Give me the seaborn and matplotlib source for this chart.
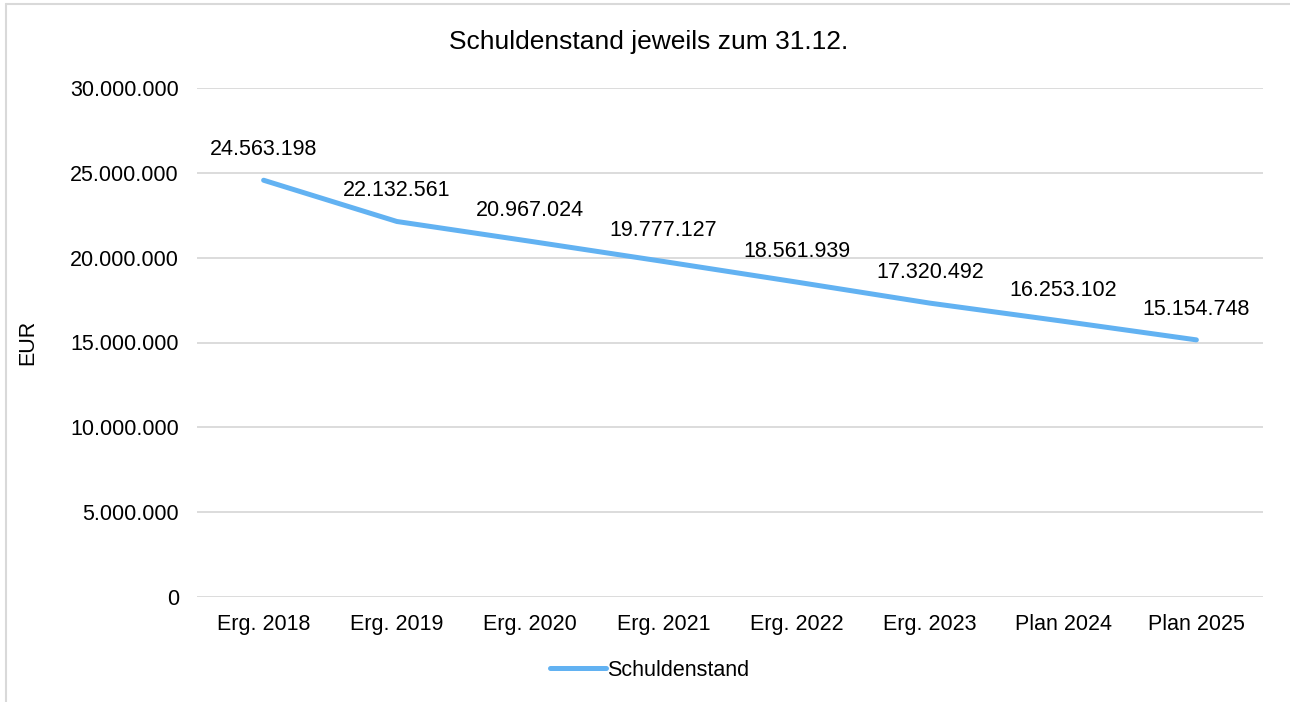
import pandas as pd
import matplotlib.pyplot as plt
import matplotlib.ticker as mticker
import seaborn as sns
from matplotlib.lines import Line2D

# data
jahre = ["Erg. 2018", "Erg. 2019", "Erg. 2020", "Erg. 2021",
         "Erg. 2022", "Erg. 2023", "Plan 2024", "Plan 2025"]
schuldenstand = [24563198, 22132561, 20967024, 19777127,
                 18561939, 17320492, 16253102, 15154748]
y_ticks = [0, 5000000, 10000000, 15000000, 20000000, 25000000, 30000000]

df = pd.DataFrame({"Jahr": jahre, "Schuldenstand": schuldenstand})


def de_fmt(v):
    return f"{int(v):,}".replace(",", ".")


sns.set_style("white")
plt.rcParams["font.family"] = ["Liberation Sans", "DejaVu Sans"]
plt.rcParams["text.color"] = "#000000"

line_color = "#62B2F2"
grid_color = "#D9D9D9"
fs = 15.5

fig = plt.figure(figsize=(12.9, 7.02), dpi=100)
ax = fig.add_axes([197 / 1290, 1 - 597 / 702, 1066 / 1290, 509 / 702])

sns.lineplot(x="Jahr", y="Schuldenstand", data=df, sort=False, ax=ax,
             color=line_color, linewidth=3.6, solid_capstyle="round",
             label="Schuldenstand")

# data labels
for i, v in enumerate(df["Schuldenstand"]):
    ax.annotate(de_fmt(v), (i, v), xytext=(0, 22), textcoords="offset points",
                ha="center", va="center", fontsize=fs, color="#000000")

ax.set_xlim(-0.5, len(jahre) - 0.5)
ax.set_ylim(0, 30000000)
ax.set_yticks(y_ticks)
ax.yaxis.set_major_formatter(mticker.FuncFormatter(lambda v, p: de_fmt(v)))
ax.grid(axis="y", color=grid_color, linewidth=1.3)
ax.set_axisbelow(True)
for s in ax.spines.values():
    s.set_visible(False)
ax.tick_params(axis="both", length=0, labelsize=fs, colors="#000000")
ax.tick_params(axis="y", pad=13)
ax.tick_params(axis="x", pad=12)

ax.set_xlabel("")
ax.set_ylabel("EUR", fontsize=fs, color="#000000")
ax.yaxis.set_label_coords(-159 / 1066, 0.5)

fig.text(0.5025, 1 - 42 / 702, "Schuldenstand jeweils zum 31.12.",
         fontsize=19, ha="center", va="center", color="#000000")

leg = ax.legend(loc="center", bbox_to_anchor=(650 / 1290, 1 - 670 / 702),
                bbox_transform=fig.transFigure, frameon=False,
                fontsize=fs, handlelength=2.6, handletextpad=0.05)

# chart frame (partly cut off at right and bottom)
fig.add_artist(Line2D([6 / 1290, 6 / 1290], [0, 1 - 4 / 702],
                      transform=fig.transFigure, color=grid_color, linewidth=1.5))
fig.add_artist(Line2D([6 / 1290, 1], [1 - 4 / 702, 1 - 4 / 702],
                      transform=fig.transFigure, color=grid_color, linewidth=1.5))

fig.savefig("out.png", dpi=100)
